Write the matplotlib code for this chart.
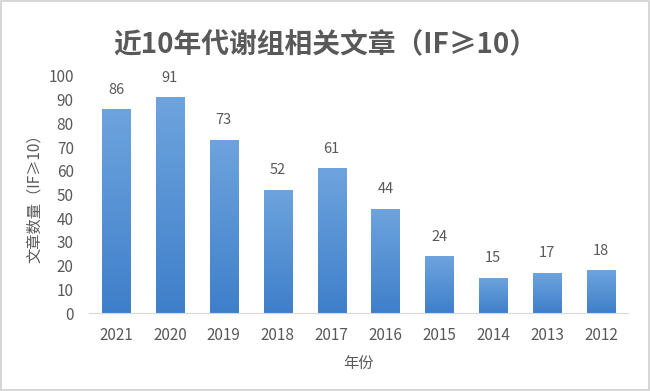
import numpy as np
import matplotlib.pyplot as plt
from matplotlib.patches import Rectangle

plt.rcParams['font.family'] = ['Noto Sans CJK SC', 'DejaVu Sans']

years = ['2021', '2020', '2019', '2018', '2017', '2016', '2015', '2014', '2013', '2012']
counts = [86, 91, 73, 52, 61, 44, 24, 15, 17, 18]

GRAY = '#595959'

fig = plt.figure(figsize=(6.5, 3.91), dpi=100)
fig.patch.set_facecolor('white')
fig.patches.append(Rectangle((0.002, 0.002), 0.996, 0.995, transform=fig.transFigure,
                             fill=False, edgecolor='#d0d0d0', lw=1.2))

ax = fig.add_axes([0.137, 0.199, 0.829, 0.607])
x = np.arange(len(years))
bars = ax.bar(x, counts, width=0.52, color='none', edgecolor='none')

# vertical gradient fill for each bar (lighter top, darker bottom)
grad = np.linspace(0, 1, 256).reshape(-1, 1)
cmap = plt.matplotlib.colors.LinearSegmentedColormap.from_list('b', ['#3f7fca', '#6ea4de'])
for b in bars:
    bx, by = b.get_x(), b.get_y()
    w, h = b.get_width(), b.get_height()
    im = ax.imshow(grad, extent=[bx, bx + w, by, by + h], origin='lower',
                   aspect='auto', cmap=cmap, zorder=2)
    im.set_clip_path(b)

for xi, v in zip(x, counts):
    ax.annotate(str(v), (xi, v), xytext=(0, 9), textcoords='offset points',
                ha='center', va='bottom', fontsize=10.5, color=GRAY)

ax.set_xlim(-0.5, len(years) - 0.5)
ax.set_ylim(0, 100)
ax.set_yticks(range(0, 101, 10))
ax.set_xticks(x)
ax.set_xticklabels(years)
ax.tick_params(axis='both', length=0, labelsize=11, labelcolor=GRAY)
ax.tick_params(axis='y', pad=11)
ax.tick_params(axis='x', pad=10)
for s in ['top', 'right', 'left']:
    ax.spines[s].set_visible(False)
ax.spines['bottom'].set_color('#d9d9d9')

ax.set_xlabel('年份', fontsize=11, color=GRAY, labelpad=8)
ax.set_ylabel('文章数量（IF≥10）', fontsize=11, color=GRAY, labelpad=4)

fig.text(0.5, 0.885, '近10年代谢组相关文章（IF≥10）', ha='center', va='center',
         fontsize=20, fontweight='bold', color=GRAY)

fig.savefig('out.png', dpi=100, facecolor='white')
